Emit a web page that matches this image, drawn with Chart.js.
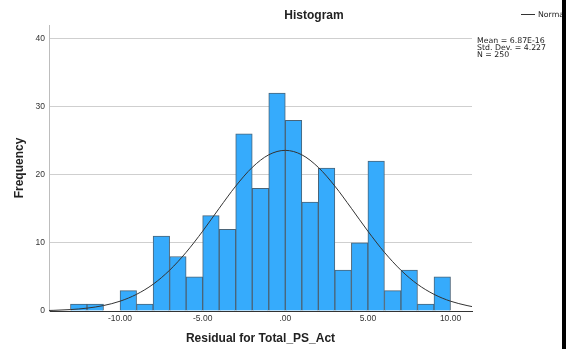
<!DOCTYPE html>
<html>
<head>
<meta charset="utf-8">
<script src="https://cdn.jsdelivr.net/npm/chart.js@4.4.1/dist/chart.umd.min.js"></script>
<style>
  body { margin: 0; background: #fff; }
  #wrap { position: relative; width: 566px; height: 349px; }
  #edge { position: absolute; left: 562px; top: 0; width: 4px; height: 349px; background: #000; }
</style>
</head>
<body>
<div id="wrap">
  <canvas id="hist"></canvas>
  <div id="edge"></div>
</div>
<script>
// histogram bins (width 1) and counts
var binCenters = [-12.5, -11.5, -10.5, -9.5, -8.5, -7.5, -6.5, -5.5, -4.5, -3.5, -2.5, -1.5, -0.5,
                  0.5, 1.5, 2.5, 3.5, 4.5, 5.5, 6.5, 7.5, 8.5, 9.5];
var frequencies = [1, 1, 0, 3, 1, 11, 8, 5, 14, 12, 26, 18, 32,
                   28, 16, 21, 6, 10, 22, 3, 6, 1, 5];

// normal curve
var curveX = [-14.3, -14, -13, -12, -11, -10, -9, -8, -7, -6, -5, -4, -3, -2, -1, 0,
              1, 2, 3, 4, 5, 6, 7, 8, 9, 10, 11, 11.3];
var curveY = [0.08, 0.1, 0.21, 0.42, 0.8, 1.44, 2.45, 3.93, 5.99, 8.62, 11.72, 15.08, 18.34, 21.09, 22.94, 23.59,
              22.94, 21.09, 18.34, 15.08, 11.72, 8.62, 5.99, 3.93, 2.45, 1.44, 0.8, 0.65];

var xTickValues = [-10, -5, 0, 5, 10];
var xTickLabels = ['-10.00', '-5.00', '.00', '5.00', '10.00'];
var yTickValues = [0, 10, 20, 30, 40];

var statsLines = ['Mean = 6.87E-16', 'Std. Dev. = 4.227', 'N = 250'];

var extras = {
    id: 'extras',
    afterDraw: function (chart) {
        var c = chart.ctx;
        c.save();
        c.fillStyle = '#222';
        c.textBaseline = 'middle';
        c.textAlign = 'center';
        c.font = 'bold 12px "Liberation Sans"';
        c.fillText('Histogram', 314, 16);

        // legend
        c.strokeStyle = '#333';
        c.lineWidth = 1;
        c.beginPath();
        c.moveTo(521, 14.5);
        c.lineTo(535, 14.5);
        c.stroke();
        c.textAlign = 'left';
        c.font = '7.8px "DejaVu Sans"';
        c.fillText('Normal', 538, 15);

        // stats box
        for (var i = 0; i < statsLines.length; i++) {
            c.fillText(statsLines[i], 477, 41 + i * 7.2);
        }
        c.restore();
    }
};

var ctx = document.getElementById('hist');

var myChart = new Chart(ctx, {
    type: 'bar',
    data: {
        datasets: [
            {
                type: 'line',
                data: curveX.map(function (x, i) { return { x: x, y: curveY[i] }; }),
                borderColor: '#333',
                borderWidth: 1,
                pointRadius: 0,
                cubicInterpolationMode: 'monotone',
                order: 0
            },
            {
                type: 'bar',
                data: binCenters.map(function (x, i) { return { x: x, y: frequencies[i] }; }),
                backgroundColor: '#36abfc',
                borderColor: '#4a6478',
                borderWidth: 1,
                categoryPercentage: 1,
                barPercentage: 1,
                order: 1
            }
        ]
    },
    options: {
        responsive: true,
        maintainAspectRatio: false,
        animation: false,
        layout: { padding: { top: 25, right: 94, left: 0, bottom: 0 } },
        plugins: {
            legend: { display: false },
            tooltip: { enabled: false }
        },
        scales: {
            x: {
                type: 'linear',
                offset: false,
                min: -14.3,
                max: 11.3,
                afterBuildTicks: function (scale) {
                    scale.ticks = xTickValues.map(function (v) { return { value: v }; });
                },
                afterFit: function (scale) { scale.height = 38; },
                grid: { color: 'rgba(0,0,0,0)', drawTicks: false },
                border: { color: '#333', width: 1 },
                ticks: {
                    padding: 3,
                    maxRotation: 0,
                    color: '#333',
                    font: { family: 'Liberation Sans', size: 8.5 },
                    callback: function (v) { return xTickLabels[xTickValues.indexOf(v)]; }
                },
                title: {
                    display: true,
                    text: 'Residual for Total_PS_Act',
                    color: '#222',
                    font: { family: 'Liberation Sans', size: 12, weight: 'bold' },
                    padding: { top: 0, bottom: 3 }
                }
            },
            y: {
                min: 0,
                max: 42,
                afterBuildTicks: function (scale) {
                    scale.ticks = yTickValues.map(function (v) { return { value: v }; });
                },
                afterFit: function (scale) { scale.width = 49; },
                grid: { color: '#cfcfcf', drawTicks: false },
                border: { color: '#bdbdbd', width: 1 },
                ticks: {
                    padding: 4,
                    color: '#333',
                    font: { family: 'Liberation Sans', size: 8.5 }
                },
                title: {
                    display: true,
                    text: 'Frequency',
                    color: '#222',
                    font: { family: 'Liberation Sans', size: 12, weight: 'bold' },
                    padding: { top: 12, bottom: 0 }
                }
            }
        }
    },
    plugins: [extras]
});
</script>
</body>
</html>
